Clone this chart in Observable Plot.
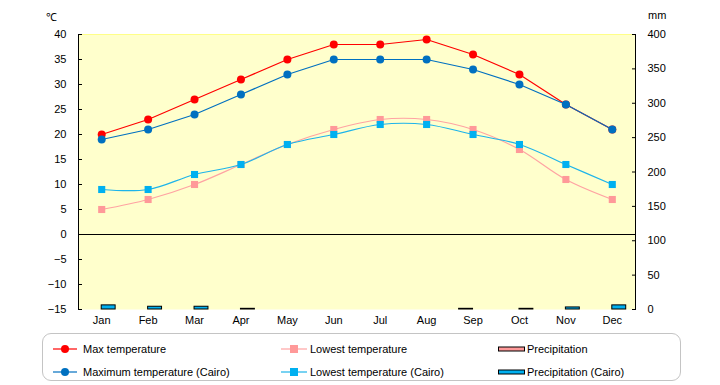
<!DOCTYPE html>
<html><head><meta charset="utf-8">
<script src="https://cdn.jsdelivr.net/npm/d3@7"></script>
<script src="https://cdn.jsdelivr.net/npm/@observablehq/plot@0.6"></script>
<style>
body{margin:0;background:#fff;font-family:"Liberation Sans",Arial,sans-serif;font-size:11px;color:#000;}
#wrap{position:relative;width:720px;height:385px;overflow:hidden;}
#chart{position:absolute;left:0;top:0;}
.unit{position:absolute;font-size:11px;}
#legend{position:absolute;left:42px;top:333px;width:639px;height:48px;border:1px solid #c4c4c4;border-radius:9px;box-sizing:border-box;}
.li{position:absolute;height:14px;line-height:14px;white-space:nowrap;}
.li svg{position:absolute;left:0;top:0;}
.li span{position:absolute;top:0;}
</style></head><body>
<div id="wrap">
<div id="chart"></div>
<div class="unit" style="left:46px;top:9px;">℃</div>
<div class="unit" style="left:648px;top:9px;">mm</div>
<div id="legend"></div>
</div>
<script>
const months = ["Jan","Feb","Mar","Apr","May","Jun","Jul","Aug","Sep","Oct","Nov","Dec"];
const maxTemp = [20,23,27,31,35,38,38,39,36,32,26,21];
const lowTemp = [5,7,10,14,18,21,23,23,21,17,11,7];
const precip = [0,0,0,0,0,0,0,0,1,0,0,0];
const maxCairo = [19,21,24,28,32,35,35,35,33,30,26,21];
const lowCairo = [9,9,12,14,18,20,22,22,20,18,14,10];
const precipCairo = [6,4,4,1,0,0,0,0,0,1,3,6];
const tempTicks = [40,35,30,25,20,15,10,5,0,-5,-10,-15];
const mmTicks = [0,50,100,150,200,250,300,350,400];

const tMin = -15, tMax = 40, mmMax = 400;
const toT = mm => tMin + mm * (tMax - tMin) / mmMax;
const fromT = t => (t - tMin) * mmMax / (tMax - tMin);

const rows = months.map((m,i)=>({i, m, maxTemp:maxTemp[i], lowTemp:lowTemp[i], precip:precip[i],
  maxCairo:maxCairo[i], lowCairo:lowCairo[i], precipCairo:precipCairo[i]}));

const C = {red:"#FF0000", pink:"#FF9999", blue:"#0070C0", cyan:"#00B0F0", pinkLine:"#FFA3A3", cyanLine:"#1EB4EA"};

const chart = Plot.plot({
  width:720, height:330,
  marginTop:34, marginBottom:21, marginLeft:78, marginRight:85,
  style:{fontFamily:'"Liberation Sans",Arial,sans-serif', fontSize:"11px", background:"transparent", color:"#000"},
  x:{type:"linear", domain:[-0.5,11.5]},
  y:{type:"linear", domain:[tMin,tMax]},
  marks:[
    Plot.frame({fill:"#FFFFCC", stroke:null}),
    Plot.ruleY([tMax], {stroke:"#FFFF88"}),
    Plot.ruleY([0], {stroke:"#000"}),
    Plot.rect(rows.filter(d=>d.precip>0), {x1:d=>d.i-0.3, x2:d=>d.i, y1:d=>tMin, y2:d=>toT(d.precip), fill:C.pink, stroke:"#000", strokeWidth:1}),
    Plot.rect(rows.filter(d=>d.precipCairo>0), {x1:d=>d.i, x2:d=>d.i+0.3, y1:d=>tMin, y2:d=>toT(d.precipCairo), fill:C.cyan, stroke:"#000", strokeWidth:1}),
    Plot.ruleX([-0.5], {stroke:"#000"}),
    Plot.ruleX([11.5], {stroke:"#000"}),
    Plot.axisY(tempTicks, {anchor:"left", tickSize:-4, tickFormat:()=>"", label:null}),
    Plot.axisY(tempTicks, {anchor:"left", tickSize:0, tickPadding:12, tickFormat:d=>d<0?"\u2212"+(-d):String(d), label:null}),
    Plot.axisY(mmTicks.map(toT), {anchor:"right", tickSize:-4, tickFormat:()=>"", label:null}),
    Plot.axisY(mmTicks.map(toT), {anchor:"right", tickSize:0, tickPadding:12, tickFormat:t=>String(Math.round(fromT(t))), label:null}),
    Plot.axisX(d3.range(12), {tickSize:0, tickPadding:7, tickFormat:i=>months[i], label:null}),
    Plot.line(rows, {x:"i", y:"maxTemp", stroke:C.red, strokeWidth:1.2}),
    Plot.dot(rows, {x:"i", y:"maxTemp", fill:C.red, r:4}),
    Plot.line(rows, {x:"i", y:"lowTemp", stroke:C.pinkLine, strokeWidth:1.2, curve:"catmull-rom"}),
    Plot.dot(rows, {x:"i", y:"lowTemp", fill:C.pink, symbol:"square", r:4}),
    Plot.line(rows, {x:"i", y:"maxCairo", stroke:C.blue, strokeWidth:1.2}),
    Plot.dot(rows, {x:"i", y:"maxCairo", fill:C.blue, r:4}),
    Plot.line(rows, {x:"i", y:"lowCairo", stroke:C.cyanLine, strokeWidth:1.2, curve:"catmull-rom"}),
    Plot.dot(rows, {x:"i", y:"lowCairo", fill:C.cyan, symbol:"square", r:4})
  ]
});
document.getElementById("chart").appendChild(chart);

// Legend
const legendItems = [
  {label:"Max temperature", type:"circle", color:C.red, line:C.red, x:10, y:8},
  {label:"Lowest temperature", type:"square", color:C.pink, line:C.pinkLine, x:238, y:8},
  {label:"Precipitation", type:"bar", color:C.pink, x:455, y:8},
  {label:"Maximum temperature (Cairo)", type:"circle", color:C.blue, line:C.blue, x:10, y:31},
  {label:"Lowest temperature (Cairo)", type:"square", color:C.cyan, line:C.cyanLine, x:238, y:31},
  {label:"Precipitation (Cairo)", type:"bar", color:C.cyan, x:455, y:31}
];
const leg = document.getElementById("legend");
for (const it of legendItems) {
  const d = document.createElement("div");
  d.className = "li";
  d.style.left = it.x + "px"; d.style.top = it.y + "px"; d.style.width = "220px";
  let sym;
  if (it.type === "circle") sym = `<line x1="0" x2="24" y1="7" y2="7" stroke="${it.line}" stroke-width="1.2"/><circle cx="12" cy="7" r="4" fill="${it.color}"/>`;
  else if (it.type === "square") sym = `<line x1="0" x2="26" y1="7" y2="7" stroke="${it.line}" stroke-width="1.2"/><rect x="9" y="3" width="8" height="8" fill="${it.color}"/>`;
  else sym = `<rect x="0.5" y="5" width="26" height="4" fill="${it.color}" stroke="#000" stroke-width="1"/>`;
  const tx = it.type === "circle" ? 30 : 29;
  d.innerHTML = `<svg width="28" height="14">${sym}</svg><span style="left:${tx}px">${it.label}</span>`;
  leg.appendChild(d);
}
</script>
</body></html>
